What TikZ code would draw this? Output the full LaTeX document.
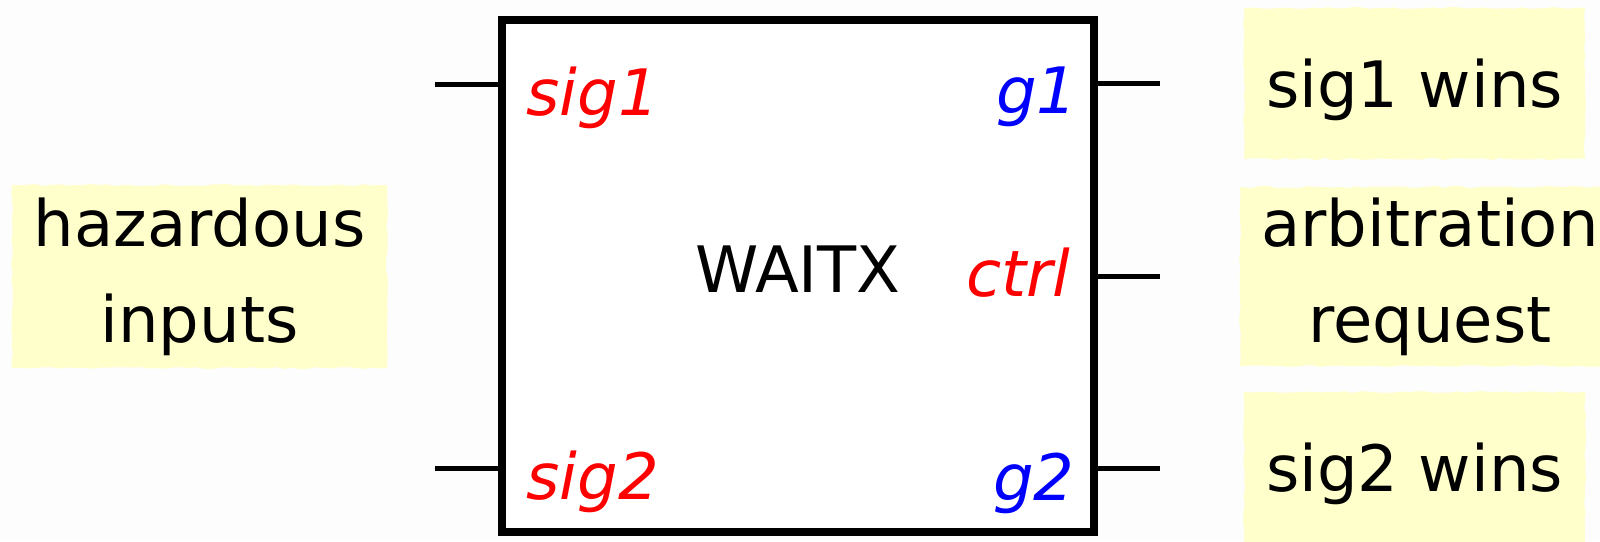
\documentclass[tikz,border=0pt]{standalone}
\usepackage{fontspec}
\setmainfont{DejaVu Sans}
\usetikzlibrary{decorations.pathmorphing}

\definecolor{notefill}{RGB}{255,255,204}
\definecolor{pagebg}{RGB}{253,253,253}
\definecolor{inred}{RGB}{255,0,0}
\definecolor{outblue}{RGB}{0,0,255}

\tikzset{
	every picture/.style={line width=2.5pt},
	blockbox/.style={draw, fill=white, line width=4pt, inner sep=0pt, outer sep=0pt,
		minimum width=296pt, minimum height=256pt, font=\fontsize{32}{38}\selectfont, text depth=6.4pt},
	stub/.style={line width=2.5pt},
	portin/.style={inner sep=0pt, text=inred, font=\fontsize{32}{38}\selectfont\itshape},
	portout/.style={inner sep=0pt, text=outblue, font=\fontsize{32}{38}\selectfont\itshape},
	note/.style={fill=notefill, inner sep=0pt, align=center,
		decorate, decoration={random steps, segment length=4pt, amplitude=0.5pt},
		font=\fontsize{32}{48}\selectfont}
}

\begin{document}
\pgfmathsetseed{7}
\begin{tikzpicture}[x=0.5pt,y=0.5pt,yscale=-1,xscale=1]
	% background
	\fill[pagebg] (0,0) rectangle (1600,541);
	\useasboundingbox (0,0) rectangle (1600,541);
	
	% Notes
	\node (hazard) [note, minimum width=187.5pt, minimum height=91.5pt] at (199.5,276.5) {hazardous\\inputs};
	\node (win1) [note, minimum width=170.5pt, minimum height=75.5pt, text depth=0pt] at (1414.5,83.5) {sig1 wins};
	\node (arb) [note, minimum width=190pt, minimum height=89.5pt] at (1430,276.5) {arbitration\\request};
	\node (win2) [note, minimum width=170.5pt, minimum height=75.5pt, text depth=0pt] at (1414.5,467.5) {sig2 wins};
	
	% Block
	\node (waitx) [blockbox] at (798,276) {WAITX};
	
	% Stub ends
	\coordinate (sig1end) at (435,84);
	\coordinate (sig2end) at (435,468);
	\coordinate (g1end) at (1160,83);
	\coordinate (ctrlend) at (1160,276);
	\coordinate (g2end) at (1160,468);
	
	%Straight Lines
	\draw [stub] (sig1end) -- (sig1end -| waitx.west);
	\draw [stub] (sig2end) -- (sig2end -| waitx.west);
	\draw [stub] (g1end) -- (g1end -| waitx.east);
	\draw [stub] (ctrlend) -- (ctrlend -| waitx.east);
	\draw [stub] (g2end) -- (g2end -| waitx.east);
	
	% Text Node
	\node (sig1) [portin, anchor=base west] at (524,115) {sig1};
	\node (sig2) [portin, anchor=base west] at (524,499) {sig2};
	\node (ctrl) [portin, anchor=base east] at (1073,296) {ctrl};
	\node (g1) [portout, anchor=base east] at (1080,113) {g1};
	\node (g2) [portout, anchor=base east] at (1077,500) {g2};
	
\end{tikzpicture}
\end{document}
